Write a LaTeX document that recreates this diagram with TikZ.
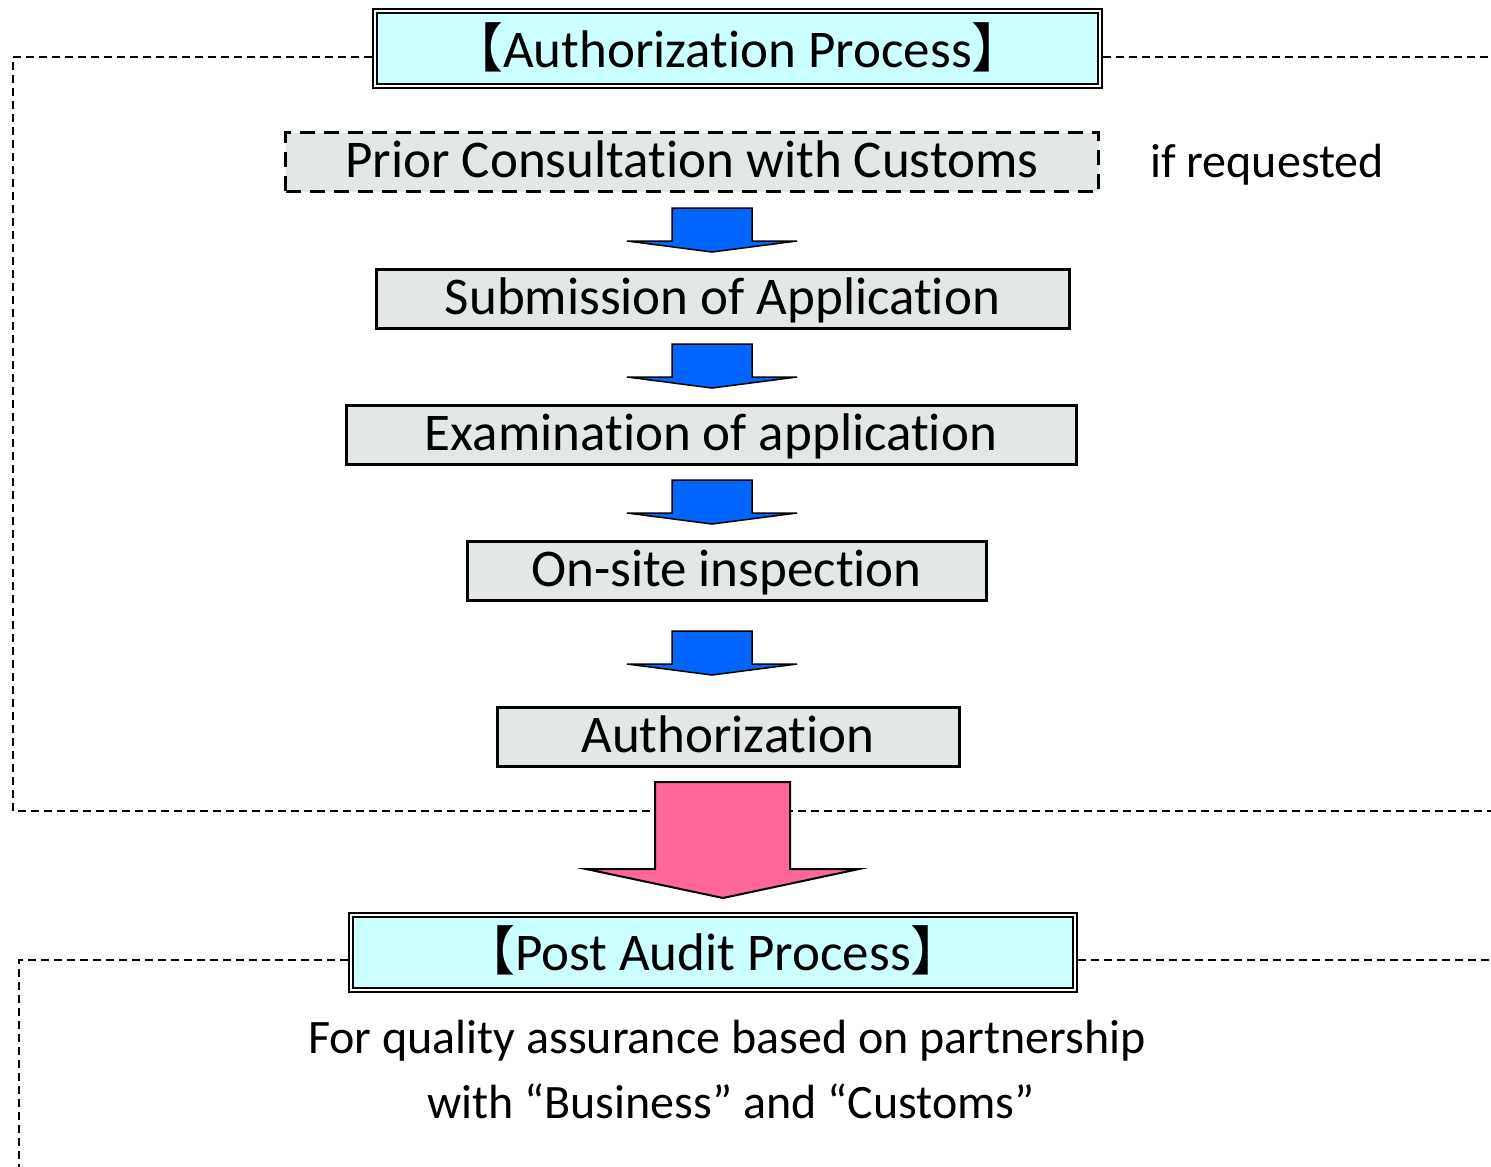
\documentclass[tikz,border=0pt]{standalone}
\usepackage{fontspec}
\setmainfont{Carlito}[Ligatures={NoCommon}]
\newfontfamily\cjkfont{Noto Sans CJK JP}
\definecolor{titlecyan}{HTML}{CCFFFF}
\definecolor{stepgray}{HTML}{E3E7E7}
\definecolor{arrowblue}{HTML}{0066FF}
\definecolor{arrowpink}{HTML}{FF6699}
\begin{document}
\begin{tikzpicture}[x=1pt,y=-1pt,
  frameline/.style={line width=1.5pt,dash pattern=on 8pt off 5pt},
  titlebox/.style={draw=black,line width=2pt,double=white,double distance=2pt,fill=titlecyan,
    inner sep=0pt,minimum height=75pt,text height=44pt,text depth=7pt,font=\fontsize{53}{60}\selectfont},
  stepbox/.style={draw=black,line width=3pt,fill=stepgray,inner sep=0pt,minimum height=59pt,
    text height=38pt,text depth=7pt,font=\fontsize{53}{60}\selectfont},
  optbox/.style={stepbox,line width=3.5pt,dash pattern=on 15pt off 9pt},
  plaintext/.style={inner sep=0pt,font=\fontsize{48}{58}\selectfont},
  bluearrow/.style={fill=arrowblue,draw=black,line width=1.5pt,line join=miter},
  pinkarrow/.style={fill=arrowpink,draw=black,line width=2pt,line join=miter}]
\useasboundingbox (0,0) rectangle (1491,1167);
% frames
\draw[frameline] (372,57) -- (13,57) -- (13,811) -- (1491,811);
\draw[frameline] (1103,57) -- (1491,57);
\draw[frameline] (348,960) -- (19,960) -- (19,1167);
\draw[frameline] (1078,960) -- (1491,960);
% nodes
\node[titlebox,minimum width=725pt] (auth) at (737.5,48.5) {{\cjkfont 【}Authorization Process{\cjkfont 】}};
\node[optbox,minimum width=813pt] (prior) at (692,162) {Prior Consultation with Customs};
\node[plaintext,anchor=base west] (ifreq) at (1150,177) {if requested};
\node[stepbox,minimum width=693pt] (submit) at (722.5,298.5) {Submission of Application};
\node[stepbox,minimum width=730pt] (exam) at (711,434.5) {Examination of application};
\node[stepbox,minimum width=519pt] (onsite) at (726.5,570.5) {On-site inspection};
\node[stepbox,minimum width=462pt] (authz) at (728,736.5) {Authorization};
\node[titlebox,minimum width=724pt] (post) at (713,952) {{\cjkfont 【}Post Audit Process{\cjkfont 】}};
\node[plaintext,anchor=base] (desc1) at (727,1053) {For quality assurance based on partnership};
\node[plaintext,anchor=base] (desc2) at (731,1118) {with “Business” and “Customs”};
% blue arrows
\draw[bluearrow] (672,208) -- (752,208) -- (752,241) -- (797,241) -- (712,252) -- (627,241) -- (672,241) -- cycle;
\draw[bluearrow] (672,344) -- (752,344) -- (752,377) -- (797,377) -- (712,388) -- (627,377) -- (672,377) -- cycle;
\draw[bluearrow] (672,480) -- (752,480) -- (752,513) -- (797,513) -- (712,524) -- (627,513) -- (672,513) -- cycle;
\draw[bluearrow] (672,631) -- (752,631) -- (752,664) -- (797,664) -- (712,675) -- (627,664) -- (672,664) -- cycle;
% pink arrow
\draw[pinkarrow] (655,782) -- (790,782) -- (790,869) -- (859,869) -- (723,898) -- (586,869) -- (655,869) -- cycle;
\end{tikzpicture}
\end{document}
